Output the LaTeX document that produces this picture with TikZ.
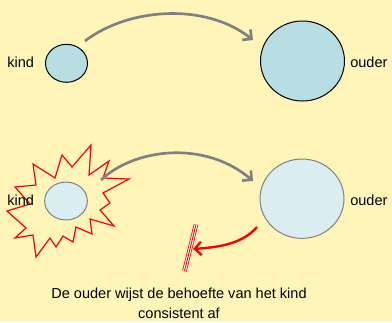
\documentclass[tikz,border=0pt]{standalone}
\usepackage{fontspec}
\setmainfont{Liberation Sans}
\usetikzlibrary{shapes.geometric,arrows.meta}
\definecolor{bgyellow}{RGB}{255,245,185}
\definecolor{blueA}{RGB}{183,223,227}
\definecolor{blueB}{RGB}{218,238,242}
\definecolor{grayline}{RGB}{128,128,128}
\definecolor{redline}{RGB}{255,0,0}
\tikzset{
  lbl/.style={font=\fontsize{10.9pt}{13pt}\selectfont, inner sep=0pt, anchor=west},
  topnode/.style={ellipse, draw=black, line width=0.75pt, fill=blueA, inner sep=0pt},
  botnode/.style={ellipse, draw=grayline, line width=0.75pt, fill=blueB, inner sep=0pt},
  grayarrow/.style={draw=grayline, line width=2pt, -{Straight Barb[length=5pt,width=10pt]}},
  redarrow/.style={draw=redline, line width=1.8pt, -{Straight Barb[length=5pt,width=10pt]}},
  burst/.style={draw=redline, line width=0.9pt, line join=miter},
}
\begin{document}
\begin{tikzpicture}[x=0.75pt,y=-0.75pt]
\fill[bgyellow] (0,0) rectangle (392,322);
\useasboundingbox (0,0) rectangle (392,322);
% top row
\node[topnode, minimum width=31.5pt, minimum height=28.5pt] (kindA) at (66.5,63.3) {};
\node[topnode, minimum width=63pt, minimum height=60pt] (ouderA) at (302.5,61) {};
\node[lbl] (kindAlbl) at (7,62) {kind};
\node[lbl] (ouderAlbl) at (350,62) {ouder};
\coordinate (a1) at (85,41);
\coordinate (a2) at (253,40);
\draw[grayarrow] (a1) .. controls (128,8) and (205,2) .. (a2);
% bottom row
\draw[burst] (91,145) -- (89,175) -- (109,161) -- (103,178) -- (129,179) -- (103,193)
  -- (110,203) -- (100,210) -- (114,226) -- (90,219) -- (92,234) -- (76,227)
  -- (73,242) -- (63,236) -- (56,247) -- (50,238) -- (36,257) -- (33,235)
  -- (15,238) -- (26,228) -- (7,211) -- (30,204) -- (15,187) -- (36,185)
  -- (33,164) -- (55,178) -- (62,155) -- (72,167) -- cycle;
\node[botnode, minimum width=32pt, minimum height=28.5pt] (kindB) at (66,201) {};
\node[botnode, minimum width=63pt, minimum height=59.5pt] (ouderB) at (302,198.7) {};
\node[lbl] (kindBlbl) at (7,200) {kind};
\node[lbl] (ouderBlbl) at (350,200) {ouder};
\coordinate (b1) at (101,180);
\coordinate (b2) at (253,181);
\draw[grayarrow] (b1) .. controls (135,148) and (205,140) .. (b2);
% red rejection arrow
\coordinate (r1) at (257,227);
\coordinate (r2) at (193,249);
\draw[redarrow] (r1) .. controls (243,243) and (222,247) .. (r2);
% red barrier
\coordinate (w1) at (196,224.5);
\coordinate (w2) at (184.5,271);
\draw[redline, line width=3.4pt] (w1) -- (w2);
\draw[white, line width=2.2pt] (w1) -- (w2);
\draw[redline, line width=0.7pt] (w1) -- (w2);
% caption
\node[font=\fontsize{10.9pt}{13pt}\selectfont, inner sep=0pt] (cap1) at (179,295) {De ouder wijst de behoefte van het kind};
\node[font=\fontsize{10.9pt}{13pt}\selectfont, inner sep=0pt] (cap2) at (179,313) {consistent af};
\end{tikzpicture}
\end{document}
